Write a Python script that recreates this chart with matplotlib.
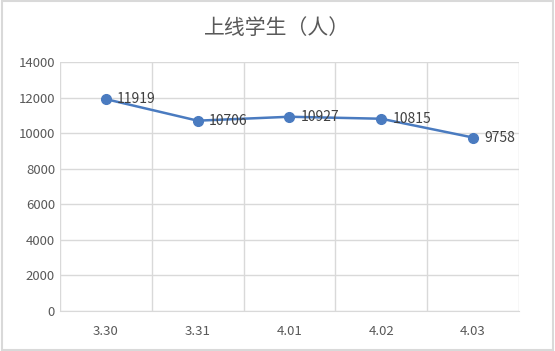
import matplotlib.pyplot as plt
from matplotlib.patches import Rectangle
import numpy as np

plt.rcParams['font.family'] = ['Noto Sans CJK SC', 'DejaVu Sans']

dates = ['3.30', '3.31', '4.01', '4.02', '4.03']
students = [11919, 10706, 10927, 10815, 9758]

fig = plt.figure(figsize=(5.55, 3.51), dpi=100)
ax = fig.add_axes([0.108, 0.114, 0.827, 0.709])

x = np.arange(len(dates))
ax.plot(x, students, color='#4A7BC0', lw=1.8, marker='o', ms=7, zorder=3)
for xi, v in zip(x, students):
    ax.annotate(str(v), (xi, v), xytext=(8, 0), textcoords='offset points',
                va='center', ha='left', fontsize=10, color='#404040')

ax.set_xlim(-0.5, len(dates) - 0.5)
ax.set_ylim(0, 14000)
ax.set_yticks(range(0, 14001, 2000))
ax.set_xticks(x)
ax.set_xticklabels(dates)
ax.set_xticks(np.arange(-0.5, len(dates), 1), minor=True)
ax.grid(axis='y', color='#D9D9D9', lw=1)
ax.grid(axis='x', which='minor', color='#D9D9D9', lw=1)
ax.tick_params(axis='both', which='both', length=0, labelsize=9.5, colors='#595959')
ax.tick_params(axis='x', pad=10)
for s in ['top', 'right', 'left']:
    ax.spines[s].set_visible(False)
ax.spines['bottom'].set_color('#D9D9D9')
ax.set_axisbelow(True)

fig.text(0.5, 0.92, '上线学生（人）', ha='center', va='center', fontsize=15, color='#595959')
fig.patches.append(Rectangle((0.003, 0.004), 0.994, 0.992, transform=fig.transFigure,
                             fill=False, edgecolor='#D9D9D9', lw=1.5))

fig.savefig('out.png', dpi=100)
